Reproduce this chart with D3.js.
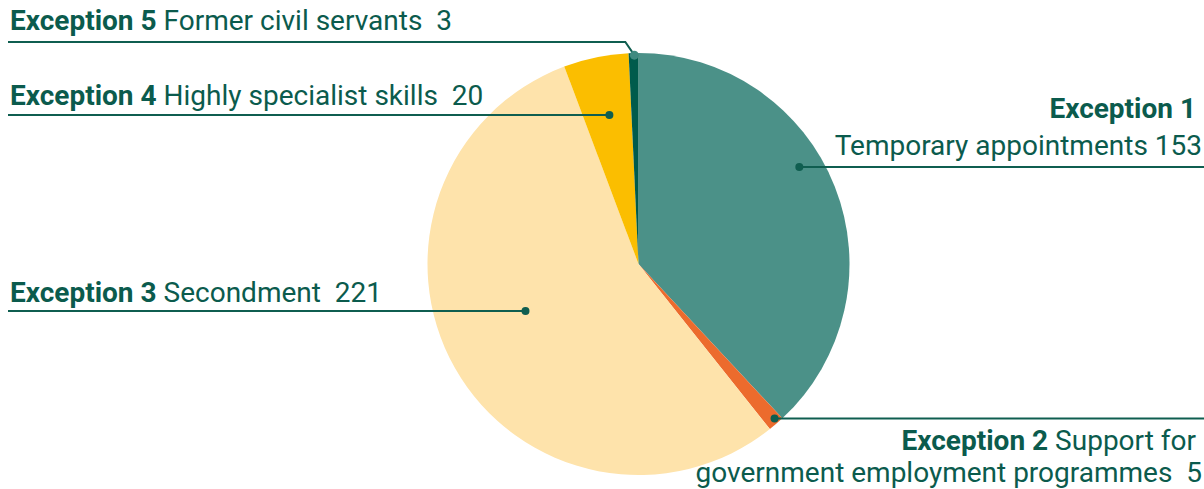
<!DOCTYPE html>
<html><head><meta charset="utf-8">
<script src="https://cdn.jsdelivr.net/npm/d3@7"></script>
<style>
html,body{margin:0;padding:0;background:#fff;}
svg{display:block;}
text{font-family:Roboto,"Noto Sans",sans-serif;fill:#0b5b4d;white-space:pre;}
</style></head>
<body>
<svg id="chart" width="1204" height="489"></svg>
<script>
const categories = ["Exception 1","Exception 2","Exception 3","Exception 4","Exception 5"];
const descriptions = ["Temporary appointments","Support for government employment programmes","Secondment","Highly specialist skills","Former civil servants"];
const values = [153, 5, 221, 20, 3];
const colors = ["#4b9188","#ec6b2d","#fee3ab","#fbbe00","#005b4c"];

const W = 1204, H = 489;
const cx = 638.5, cy = 264, R = 211;
const svg = d3.select("#chart");
const g = svg.append("g").attr("transform", `translate(${cx},${cy})`);

const data = categories.map((c,i)=>({cat:c, desc:descriptions[i], value:values[i], color:colors[i]}));
const pie = d3.pie().value(d=>d.value).sort(null).startAngle(0).endAngle(2*Math.PI);
const arcs = pie(data);
const arc = d3.arc().innerRadius(0).outerRadius(R);

g.selectAll("path.slice").data(arcs).join("path")
  .attr("class","slice")
  .attr("d", arc)
  .attr("fill", d=>d.data.color);

// label layout: dot angle offset (deg) from mid, radius fraction, label lines
const layout = [
  {dA:-9.6, rf:0.89, side:"right", lines:[{y:118, x:1203, parts:[["Exception 1 ",true]]},{y:155, x:1202, parts:[["Temporary appointments 153",false]]}]},
  {dA:-0.6, rf:0.976, side:"right", lines:[{y:450, x:1203, parts:[["Exception 2 ",true],["Support for ",false]]},{y:482, x:1202, parts:[["government employment programmes  5",false]]}]},
  {dA:7.0, rf:0.58, side:"left", lines:[{y:302, x:10, parts:[["Exception 3 ",true],["Secondment  221",false]]}]},
  {dA:0.6, rf:0.72, side:"left", lines:[{y:105, x:10, parts:[["Exception 4 ",true],["Highly specialist skills  20",false]]}]},
  {dA:0.2, rf:0.99, side:"left", elbow:{y:42, dx:-9}, lines:[{y:30, x:10, parts:[["Exception 5 ",true],["Former civil servants  3",false]]}]}
];

const lineColor = "#0f5e50";
arcs.forEach((a,i)=>{
  const L = layout[i];
  const mid = (a.startAngle + a.endAngle)/2 + L.dA*Math.PI/180;
  const px = cx + Math.sin(mid)*R*L.rf;
  const py = cy - Math.cos(mid)*R*L.rf;
  let pts;
  if (L.elbow) {
    pts = [[8, L.elbow.y],[px + L.elbow.dx, L.elbow.y],[px, py]];
  } else if (L.side === "right") {
    pts = [[px, py],[W, py]];
  } else {
    pts = [[8, py],[px, py]];
  }
  svg.append("path")
    .attr("d", d3.line()(pts))
    .attr("fill","none").attr("stroke", lineColor).attr("stroke-width", 2);
  svg.append("circle").attr("cx", px).attr("cy", py)
    .attr("r", L.elbow ? 4.5 : 4)
    .attr("fill", L.elbow ? "#3f8a80" : lineColor);
  L.lines.forEach(ln=>{
    const t = svg.append("text")
      .attr("x", ln.x).attr("y", ln.y)
      .attr("text-anchor", L.side === "right" ? "end" : "start")
      .attr("font-size", 28);
    ln.parts.forEach(p=>{
      t.append("tspan").text(p[0]).attr("font-weight", p[1] ? 700 : 400);
    });
  });
});
</script>
</body></html>
